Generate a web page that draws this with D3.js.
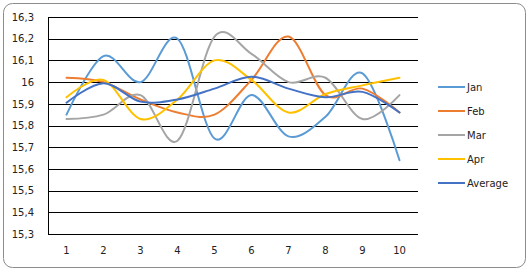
<!DOCTYPE html>
<html>
<head>
<meta charset="utf-8">
<script src="https://cdn.jsdelivr.net/npm/d3@7"></script>
<style>
    body { margin: 0; background: #fff; }
    svg text { font-family: "DejaVu Sans", Verdana, sans-serif; font-size: 10px; fill: #222; }
</style>
</head>
<body>
<div class="chart"></div>
<script>
// data
const categories = [1, 2, 3, 4, 5, 6, 7, 8, 9, 10];
const seriesNames = ['Jan', 'Feb', 'Mar', 'Apr', 'Average'];
const jan = [15.85, 16.12, 16.0, 16.2, 15.74, 15.94, 15.75, 15.84, 16.04, 15.64];
const feb = [16.02, 16.0, 15.92, 15.86, 15.85, 16.01, 16.21, 15.94, 15.97, 15.86];
const mar = [15.83, 15.85, 15.94, 15.73, 16.21, 16.13, 16.0, 16.02, 15.83, 15.94];
const apr = [15.93, 16.01, 15.83, 15.92, 16.1, 16.01, 15.86, 15.945, 15.985, 16.02];
const avg = [15.905, 15.995, 15.91, 15.92, 15.97, 16.025, 15.97, 15.93, 15.955, 15.86];
const yTicks = [15.3, 15.4, 15.5, 15.6, 15.7, 15.8, 15.9, 16, 16.1, 16.2, 16.3];

const colors = ['#5b9bd5', '#ed7d31', '#a5a5a5', '#ffc000', '#4472c4'];
const series = [jan, feb, mar, apr, avg].map((values, i) => ({
    name: seriesNames[i],
    color: colors[i],
    values: values
}));

const width = 529, height = 273;
const plot = { left: 48, right: 418, top: 17, bottom: 234 };

const svg = d3.select('.chart').append('svg')
    .attr('width', width)
    .attr('height', height);

// outer chart border
svg.append('rect')
    .attr('x', 3.5).attr('y', 3.5)
    .attr('width', 522).attr('height', 264)
    .attr('rx', 9).attr('ry', 9)
    .attr('fill', '#fff')
    .attr('stroke', '#8c8c8c');

const x = d3.scaleBand()
    .domain(categories)
    .range([plot.left, plot.right]);

const y = d3.scaleLinear()
    .domain([15.3, 16.3])
    .range([plot.bottom, plot.top]);

const fmt = d => String(+d.toFixed(1)).replace('.', ',');

// horizontal gridlines + y labels
const yAxis = svg.append('g')
    .attr('transform', `translate(${plot.left},0)`)
    .call(d3.axisLeft(y)
        .tickValues(yTicks)
        .tickFormat(fmt)
        .tickSize(-(plot.right - plot.left))
        .tickPadding(14));
yAxis.select('.domain').remove();
yAxis.selectAll('line').attr('stroke', '#000').attr('shape-rendering', 'crispEdges');
yAxis.selectAll('text').attr('fill', '#222');

// vertical axis line
svg.append('line')
    .attr('x1', plot.left + 0.5).attr('x2', plot.left + 0.5)
    .attr('y1', plot.top).attr('y2', plot.bottom)
    .attr('stroke', '#000');

// x labels
const xAxis = svg.append('g')
    .attr('transform', `translate(0,${plot.bottom})`)
    .call(d3.axisBottom(x).tickSize(0).tickPadding(13));
xAxis.select('.domain').remove();
xAxis.selectAll('text').attr('fill', '#222');

// smooth lines, Excel-like
const line = d3.line()
    .x((d, i) => x(categories[i]) + x.bandwidth() / 2)
    .y(d => y(d))
    .curve(d3.curveCardinal.tension(0));

svg.append('g')
    .selectAll('path')
    .data(series)
    .join('path')
    .attr('d', d => line(d.values))
    .attr('fill', 'none')
    .attr('stroke', d => d.color)
    .attr('stroke-width', 2)
    .attr('stroke-linecap', 'round');

// legend
const legend = svg.append('g')
    .attr('transform', 'translate(438,87)')
    .selectAll('g')
    .data(series)
    .join('g')
    .attr('transform', (d, i) => `translate(0,${i * 24})`);

legend.append('line')
    .attr('x1', 0).attr('x2', 27)
    .attr('stroke', d => d.color)
    .attr('stroke-width', 2);

legend.append('text')
    .attr('x', 29)
    .attr('dy', '0.35em')
    .text(d => d.name);
</script>
</body>
</html>
